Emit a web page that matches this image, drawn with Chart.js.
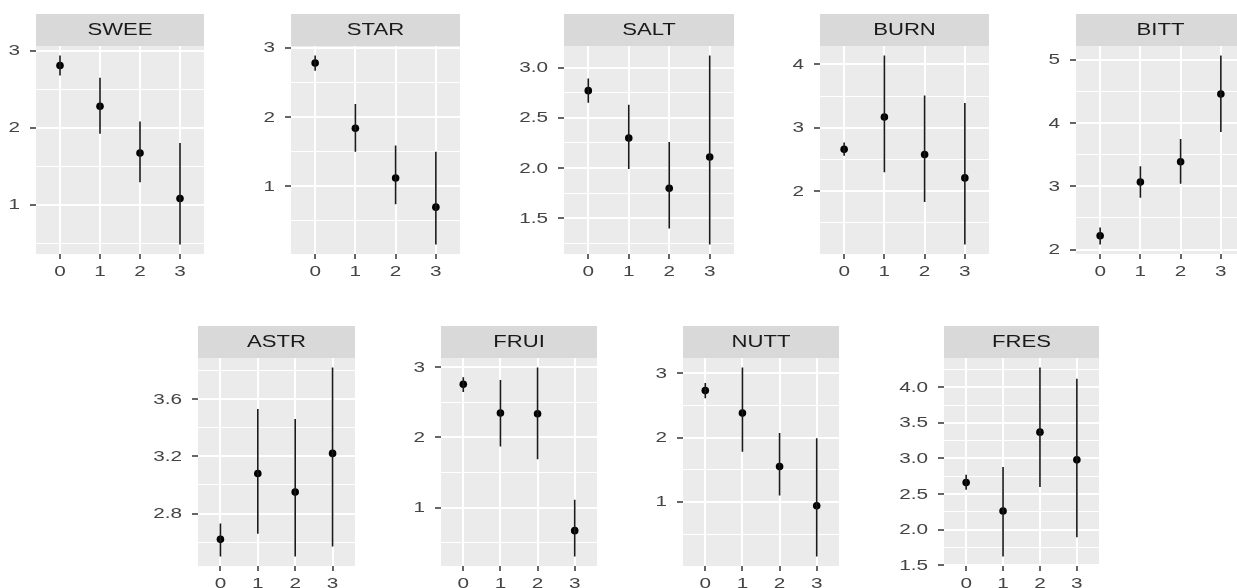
<!DOCTYPE html>
<html>
<head>
<meta charset="utf-8">
<title>Attribute means by level</title>
<script src="https://cdn.jsdelivr.net/npm/chart.js"></script>
<style>
  body {
    margin: 0;
    width: 1237px;
    height: 588px;
    overflow: hidden;
    position: relative;
    background: #fff;
  }
  canvas { position: absolute; }
</style>
</head>
<body>
<script>
// x levels shared by every panel
const levels = [0, 1, 2, 3];
const levelLabels = ['0', '1', '2', '3'];

// mean and interval ends for each attribute, levels 0..3
const sweeMean = [2.81, 2.28, 1.67, 1.08];
const sweeLo   = [2.68, 1.92, 1.29, 0.48];
const sweeHi   = [2.94, 2.65, 2.08, 1.80];
const sweeTicks = ['1', '2', '3'];

const starMean = [2.78, 1.84, 1.12, 0.70];
const starLo   = [2.67, 1.50, 0.74, 0.16];
const starHi   = [2.89, 2.19, 1.59, 1.50];
const starTicks = ['1', '2', '3'];

const saltMean = [2.77, 2.30, 1.80, 2.11];
const saltLo   = [2.65, 1.99, 1.40, 1.24];
const saltHi   = [2.89, 2.63, 2.26, 3.12];
const saltTicks = ['1.5', '2.0', '2.5', '3.0'];

const burnMean = [2.66, 3.17, 2.58, 2.21];
const burnLo   = [2.56, 2.30, 1.83, 1.16];
const burnHi   = [2.77, 4.14, 3.51, 3.39];
const burnTicks = ['2', '3', '4'];

const bittMean = [2.22, 3.07, 3.39, 4.46];
const bittLo   = [2.08, 2.82, 3.04, 3.86];
const bittHi   = [2.35, 3.32, 3.75, 5.07];
const bittTicks = ['2', '3', '4', '5'];

const astrMean = [2.62, 3.08, 2.95, 3.22];
const astrLo   = [2.50, 2.66, 2.50, 2.57];
const astrHi   = [2.73, 3.53, 3.46, 3.82];
const astrTicks = ['2.8', '3.2', '3.6'];

const fruiMean = [2.76, 2.35, 2.34, 0.67];
const fruiLo   = [2.65, 1.87, 1.69, 0.30];
const fruiHi   = [2.86, 2.82, 3.00, 1.11];
const fruiTicks = ['1', '2', '3'];

const nuttMean = [2.73, 2.38, 1.55, 0.94];
const nuttLo   = [2.61, 1.78, 1.10, 0.15];
const nuttHi   = [2.85, 3.09, 2.07, 1.99];
const nuttTicks = ['1', '2', '3'];

const fresMean = [2.66, 2.26, 3.37, 2.98];
const fresLo   = [2.56, 1.62, 2.60, 1.89];
const fresHi   = [2.77, 2.88, 4.28, 4.12];
const fresTicks = ['1.5', '2.0', '2.5', '3.0', '3.5', '4.0'];

const panels = [
  { name: 'SWEE', mean: sweeMean, lo: sweeLo, hi: sweeHi, ticks: sweeTicks },
  { name: 'STAR', mean: starMean, lo: starLo, hi: starHi, ticks: starTicks },
  { name: 'SALT', mean: saltMean, lo: saltLo, hi: saltHi, ticks: saltTicks },
  { name: 'BURN', mean: burnMean, lo: burnLo, hi: burnHi, ticks: burnTicks },
  { name: 'BITT', mean: bittMean, lo: bittLo, hi: bittHi, ticks: bittTicks },
  { name: 'ASTR', mean: astrMean, lo: astrLo, hi: astrHi, ticks: astrTicks },
  { name: 'FRUI', mean: fruiMean, lo: fruiLo, hi: fruiHi, ticks: fruiTicks },
  { name: 'NUTT', mean: nuttMean, lo: nuttLo, hi: nuttHi, ticks: nuttTicks },
  { name: 'FRES', mean: fresMean, lo: fresLo, hi: fresHi, ticks: fresTicks }
];

// layout: plot box of each panel (strip sits above it)
const boxes = [
  { left: 36,   right: 206,  top: 14,  bottom: 254 },
  { left: 291,  right: 462,  top: 14,  bottom: 254 },
  { left: 564,  right: 736,  top: 14,  bottom: 254 },
  { left: 820,  right: 991,  top: 14,  bottom: 254 },
  { left: 1076, right: 1247, top: 14,  bottom: 254 },
  { left: 198,  right: 357,  top: 326, bottom: 566 },
  { left: 441,  right: 599,  top: 326, bottom: 566 },
  { left: 683,  right: 841,  top: 326, bottom: 566 },
  { left: 944,  right: 1101, top: 326, bottom: 566 }
];

const stripH = 32, yAxisW = 50, xAxisH = 34;
const textStretch = 1.4;
const FONT = '"Liberation Sans", Arial, Helvetica, sans-serif';

// text in the reference is drawn wide, so scale it horizontally
function drawWide(ctx, text, x, y, align, size, color) {
  ctx.save();
  ctx.font = size + 'px ' + FONT;
  ctx.fillStyle = color;
  ctx.textAlign = align;
  ctx.textBaseline = 'middle';
  ctx.translate(x, y);
  ctx.scale(textStretch, 1);
  ctx.fillText(text, 0, 0);
  ctx.restore();
}

function facetPlugin(p) {
  return {
    id: 'facet',
    beforeDraw(chart) {
      const { ctx, chartArea: a } = chart;
      ctx.save();
      ctx.fillStyle = '#EBEBEB';
      ctx.fillRect(a.left, a.top, a.right - a.left, a.bottom - a.top);
      ctx.fillStyle = '#D9D9D9';
      ctx.fillRect(a.left, a.top - stripH, a.right - a.left, stripH);
      ctx.restore();
      drawWide(ctx, p.name, (a.left + a.right) / 2, a.top - stripH / 2 + 1, 'center', 15.8, '#1A1A1A');
    },
    afterDraw(chart) {
      const { ctx, chartArea: a, scales } = chart;
      p.ticks.forEach(t => {
        const y = scales.y.getPixelForValue(parseFloat(t));
        drawWide(ctx, t, a.left - 16, y + 0.5, 'right', 14.8, '#444');
      });
      levels.forEach((v, i) => {
        const x = scales.x.getPixelForValue(v);
        drawWide(ctx, levelLabels[i], x, a.bottom + 17.5, 'center', 14.8, '#444');
      });
    }
  };
}

function makePanel(p, box) {
  const canvas = document.createElement('canvas');
  canvas.width = box.right - box.left + yAxisW + 2;
  canvas.height = box.bottom - box.top + xAxisH;
  canvas.style.left = (box.left - yAxisW) + 'px';
  canvas.style.top = box.top + 'px';
  document.body.appendChild(canvas);

  // ggplot style 5% expansion of the data range
  const lo = Math.min(...p.lo), hi = Math.max(...p.hi);
  const ymin = lo - (hi - lo) * 0.05, ymax = hi + (hi - lo) * 0.05;
  const majors = p.ticks.map(Number);
  const step = majors[1] - majors[0];
  const minors = [majors[0] - step / 2].concat(majors.map(v => v + step / 2));
  const yVals = majors.concat(minors).filter(v => v >= ymin && v <= ymax);
  const isMajor = v => majors.some(m => Math.abs(m - v) < 1e-6);

  const bars = [];
  levels.forEach((x, i) => {
    bars.push({ x: x, y: p.lo[i] }, { x: x, y: p.hi[i] }, { x: x, y: null });
  });

  new Chart(canvas, {
    type: 'scatter',
    data: {
      datasets: [
        {
          data: bars,
          showLine: true,
          spanGaps: false,
          borderColor: '#1a1a1a',
          borderWidth: 1.6,
          pointRadius: 0
        },
        {
          data: levels.map((x, i) => ({ x: x, y: p.mean[i] })),
          pointRadius: 3.8,
          pointBackgroundColor: '#000',
          pointBorderWidth: 0
        }
      ]
    },
    options: {
      responsive: false,
      animation: false,
      layout: { padding: { top: stripH, right: 2, left: 0, bottom: 0 } },
      plugins: { legend: { display: false }, tooltip: { enabled: false } },
      scales: {
        x: {
          type: 'linear',
          min: -0.6,
          max: 3.6,
          afterBuildTicks: s => { s.ticks = levels.map(v => ({ value: v })); },
          afterFit: s => { s.height = xAxisH; },
          ticks: { display: false },
          border: { display: false },
          grid: { color: '#fff', lineWidth: 2, tickColor: '#333', tickLength: 5, tickWidth: 1.5 }
        },
        y: {
          type: 'linear',
          min: ymin,
          max: ymax,
          afterBuildTicks: s => { s.ticks = yVals.map(v => ({ value: v })); },
          afterFit: s => { s.width = yAxisW; },
          ticks: { display: false },
          border: { display: false },
          grid: {
            color: '#fff',
            lineWidth: c => (c.tick && isMajor(c.tick.value) ? 2 : 1),
            tickColor: c => (c.tick && isMajor(c.tick.value) ? '#333' : 'rgba(0,0,0,0)'),
            tickLength: 6,
            tickWidth: 1.5
          }
        }
      }
    },
    plugins: [facetPlugin(p)]
  });
}

panels.forEach((p, i) => makePanel(p, boxes[i]));
</script>
</body>
</html>
